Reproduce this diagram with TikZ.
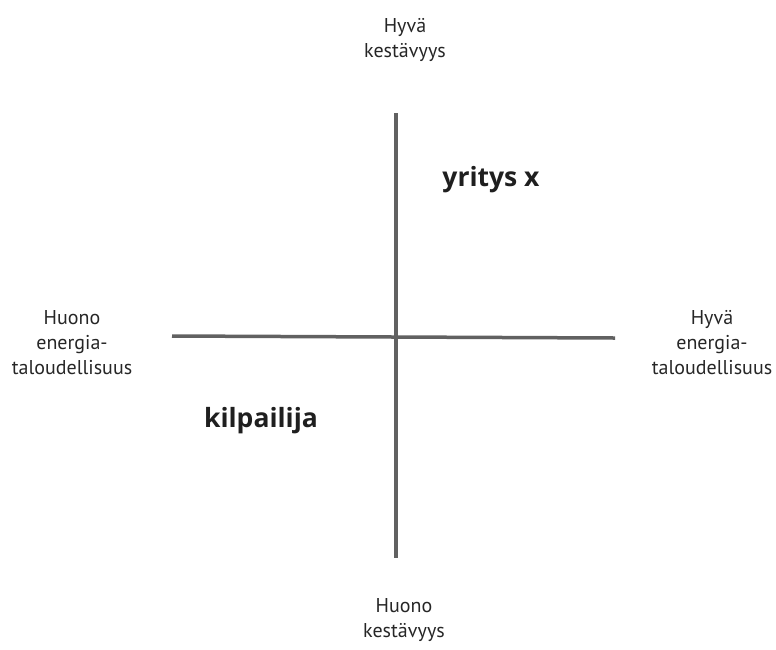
\documentclass[tikz,border=0pt]{standalone}
\usepackage{fontspec}
\setmainfont{PT Sans}
\newfontfamily\firmfont{Open Sans}
\usepackage{xcolor}
\usetikzlibrary{positioning}

\begin{document}
\begin{tikzpicture}[
  x=1pt, y=-1pt,
  axis/.style={line width=3.5pt, draw=black!62},
  pole/.style={align=center, font=\fontsize{20}{25}\selectfont, text=black!85, inner sep=0pt},
  firm/.style={font=\firmfont\fontsize{26.5}{30}\selectfont\bfseries, text=black!88, inner sep=0pt}
]
  \useasboundingbox (0,0) rectangle (776,649);

  % axis ends
  \coordinate (top) at (396,113);
  \coordinate (bottom) at (396,558);
  \coordinate (left) at (172,336);
  \coordinate (right) at (615,338);

  \draw[axis] (top) -- (bottom);
  \draw[axis] (left) -- (right);

  % pole labels
  \node[pole] (hyvakest) at (405,40) {Hyvä\\kestävyys};
  \node[pole] (huonokest) at (404,620) {Huono\\kestävyys};
  \node[pole] (huonoener) at (72,343) {Huono\\energia-\\taloudellisuus};
  \node[pole] (hyvaener) at (712,343) {Hyvä\\energia-\\taloudellisuus};

  % positions
  \node[firm] (yritys) at (491,180) {yritys x};
  \node[firm] (kilpailija) at (261,421) {kilpailija};
\end{tikzpicture}
\end{document}
